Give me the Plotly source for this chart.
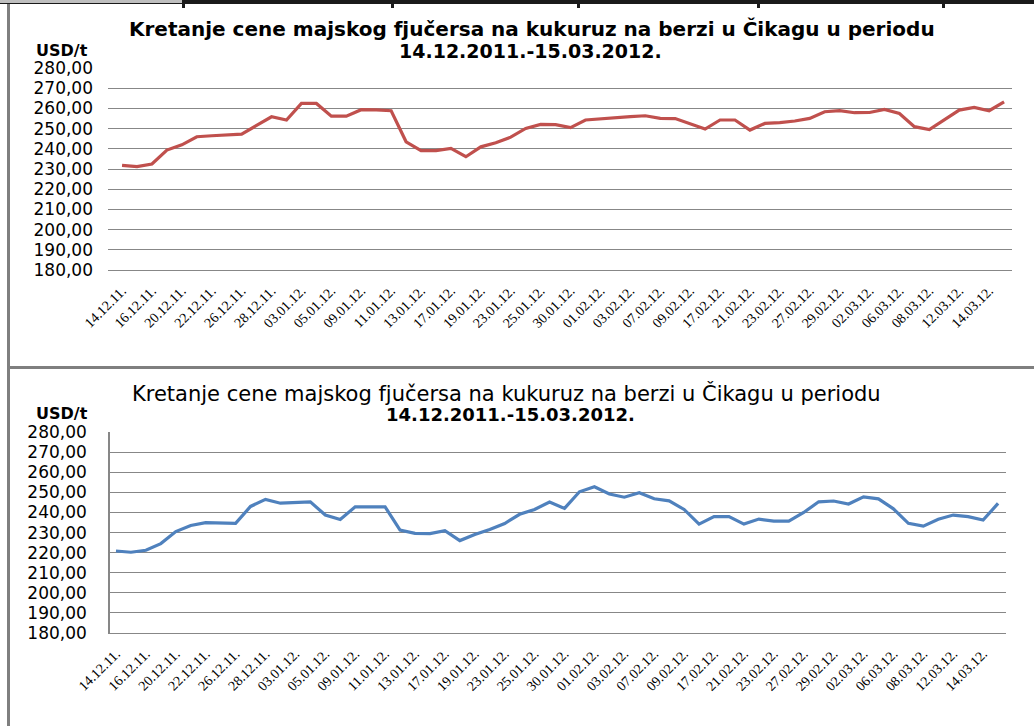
import plotly.graph_objects as go

# ---------------- data ----------------
dates = [
    "14.12.11.", "15.12.11.", "16.12.11.", "19.12.11.", "20.12.11.", "21.12.11.",
    "22.12.11.", "23.12.11.", "26.12.11.", "27.12.11.", "28.12.11.", "29.12.11.",
    "03.01.12.", "04.01.12.", "05.01.12.", "06.01.12.", "09.01.12.", "10.01.12.",
    "11.01.12.", "12.01.12.", "13.01.12.", "16.01.12.", "17.01.12.", "18.01.12.",
    "19.01.12.", "20.01.12.", "23.01.12.", "24.01.12.", "25.01.12.", "27.01.12.",
    "30.01.12.", "31.01.12.", "01.02.12.", "02.02.12.", "03.02.12.", "06.02.12.",
    "07.02.12.", "08.02.12.", "09.02.12.", "16.02.12.", "17.02.12.", "20.02.12.",
    "21.02.12.", "22.02.12.", "23.02.12.", "24.02.12.", "27.02.12.", "28.02.12.",
    "29.02.12.", "01.03.12.", "02.03.12.", "05.03.12.", "06.03.12.", "07.03.12.",
    "08.03.12.", "09.03.12.", "12.03.12.", "13.03.12.", "14.03.12.", "15.03.12.",
]

price_top = [
    231.8, 231.2, 232.5, 239.4, 242.0, 246.0, 246.5, 247.0, 247.3, 251.6,
    255.9, 254.3, 262.5, 262.5, 256.2, 256.2, 259.4, 259.3, 258.9, 243.5,
    239.1, 239.1, 240.2, 236.1, 241.0, 243.0, 245.8, 250.1, 252.1, 252.0,
    250.5, 254.3, 255.0, 255.6, 256.0, 256.4, 255.1, 255.0, 252.3, 249.8,
    254.3, 254.3, 249.3, 252.6, 253.0, 253.8, 255.1, 258.4, 258.9, 257.9,
    258.0, 259.5, 257.5, 251.0, 249.6, 254.3, 259.2, 260.5, 258.9, 263.3,
]

price_bottom = [
    220.8, 220.2, 221.2, 224.5, 230.5, 233.5, 234.9, 234.7, 234.6, 243.0,
    246.5, 244.6, 245.0, 245.3, 238.7, 236.5, 242.8, 242.6, 242.8, 231.2,
    229.6, 229.5, 230.9, 226.0, 229.0, 231.5, 234.5, 239.1, 241.5, 245.2,
    242.0, 250.3, 252.8, 249.2, 247.6, 249.8, 246.8, 245.8, 241.5, 234.2,
    237.9, 237.9, 234.2, 236.7, 235.7, 235.7, 240.0, 245.3, 245.7, 244.2,
    247.8, 246.8, 241.8, 234.6, 233.2, 236.6, 238.7, 237.9, 236.2, 244.5,
]

y_ticks = [180, 190, 200, 210, 220, 230, 240, 250, 260, 270, 280]
title_line1 = "Kretanje cene majskog fjučersa na kukuruz na berzi u Čikagu u periodu"
title_line2 = "14.12.2011.-15.03.2012."
unit_label = "USD/t"

# ---------------- layout helpers ----------------
W, H = 1034, 726
def fx(px):
    return px / W
def fy(py):
    return 1 - py / H

x_idx = list(range(len(dates)))
tick_idx = x_idx[::2]
tick_txt = dates[::2]

GRID = "#878787"

fig = go.Figure()
fig.add_trace(go.Scatter(x=x_idx, y=price_top, mode="lines",
                         line=dict(color="#C0504D", width=3.2),
                         xaxis="x", yaxis="y", showlegend=False, hoverinfo="skip"))
fig.add_trace(go.Scatter(x=x_idx, y=price_bottom, mode="lines",
                         line=dict(color="#4F81BD", width=3.2),
                         xaxis="x2", yaxis="y2", showlegend=False, hoverinfo="skip"))

xaxis_common = dict(
    tickmode="array", tickvals=tick_idx, ticktext=tick_txt, tickangle=-45,
    tickfont=dict(family="Liberation Serif", size=14, color="black"),
    showgrid=False, zeroline=False, showline=True, linecolor=GRID, linewidth=1,
    ticks="", ticklabelstandoff=6, automargin=False,
)
yaxis_common = dict(
    range=[180, 280.05], tickmode="array", tickvals=y_ticks,
    tickformat=".2f", showgrid=True, gridcolor=GRID, gridwidth=1,
    zeroline=False, ticks="", automargin=False,
    tickfont=dict(family="DejaVu Sans", size=17, color="black"),
)

fig.update_layout(
    template="none",
    width=W, height=H,
    margin=dict(l=0, r=0, t=0, b=0, pad=0, autoexpand=False),
    paper_bgcolor="white", plot_bgcolor="white",
    separators=", ",
    xaxis=dict(domain=[fx(108), fx(1012)], range=[-0.94, 59.53], anchor="y", **xaxis_common),
    yaxis=dict(domain=[fy(270), fy(68)], anchor="x", showline=False,
               ticklabelstandoff=14, **yaxis_common),
    xaxis2=dict(domain=[fx(110), fx(1006)], range=[-0.40, 59.53], anchor="y2", **xaxis_common),
    yaxis2=dict(domain=[fy(633), fy(432)], anchor="x2", showline=True,
                linecolor=GRID, linewidth=1.5, ticklabelstandoff=18, **yaxis_common),
)

annotations = [
    dict(text=title_line1, x=fx(532), y=fy(29), font=dict(family="DejaVu Sans", size=20, color="black", weight="bold")),
    dict(text=title_line2, x=fx(530), y=fy(51), font=dict(family="DejaVu Sans", size=19, color="black", weight="bold")),
    dict(text=unit_label, x=fx(62), y=fy(50), font=dict(family="DejaVu Sans", size=16, color="black", weight="bold")),
    dict(text=title_line1, x=fx(506), y=fy(393), font=dict(family="DejaVu Sans", size=21, color="black")),
    dict(text=title_line2, x=fx(510), y=fy(414), font=dict(family="DejaVu Sans", size=18, color="black", weight="bold")),
    dict(text=unit_label, x=fx(62), y=fy(413), font=dict(family="DejaVu Sans", size=16, color="black", weight="bold")),
]
for a in annotations:
    a.update(xref="paper", yref="paper", showarrow=False, xanchor="center", yanchor="middle")
fig.update_layout(annotations=annotations)

shapes = [
    # top frame line
    dict(type="rect", x0=0, x1=1, y0=fy(4), y1=fy(0), fillcolor="#1a1a1a", line_width=0),
    # light grey cell at the top-left
    dict(type="rect", x0=0, x1=fx(182), y0=fy(3), y1=fy(0), fillcolor="#bfbfbf", line_width=0),
    # left vertical border
    dict(type="rect", x0=fx(7), x1=fx(10), y0=0, y1=fy(4), fillcolor="#7f7f7f", line_width=0),
    # middle separator
    dict(type="rect", x0=fx(7), x1=1, y0=fy(369), y1=fy(366), fillcolor="#7f7f7f", line_width=0),
]
for xs in [182, 391, 577, 757, 942]:
    shapes.append(dict(type="rect", x0=fx(xs), x1=fx(xs + 3), y0=fy(8), y1=fy(0),
                       fillcolor="#1a1a1a", line_width=0))
for s in shapes:
    s.update(xref="paper", yref="paper", layer="above")
fig.update_layout(shapes=shapes)

fig.write_html(
    "out.html",
    config={"displayModeBar": False},
    post_script="document.body.style.margin='0';document.body.style.overflow='hidden';",
)
